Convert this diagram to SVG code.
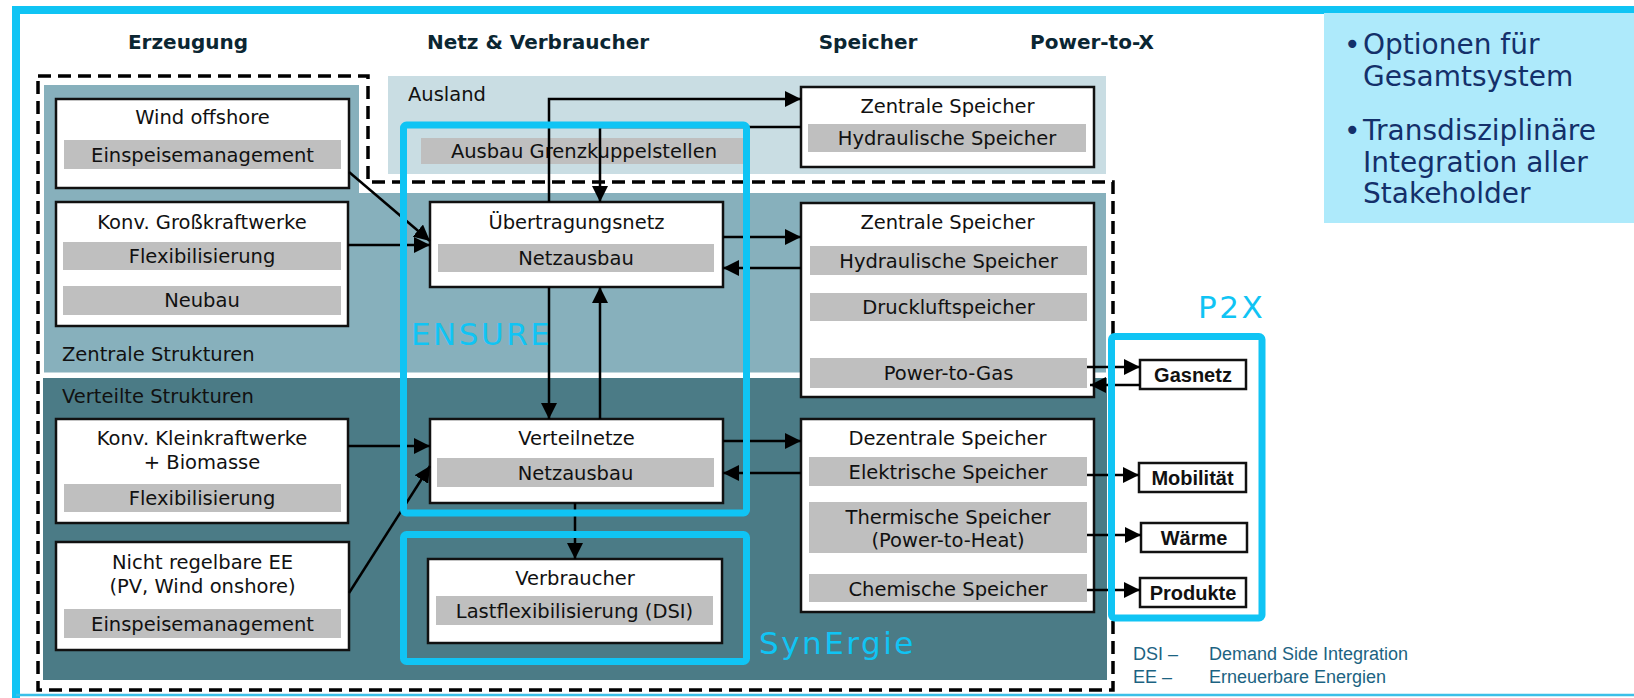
<svg xmlns="http://www.w3.org/2000/svg" width="1634" height="698" viewBox="0 0 1634 698">
  <style>
    .txt { font-family: "DejaVu Sans", Verdana, sans-serif; font-size: 19.5px; fill: #111; text-anchor: middle; }
    .lbl { font-family: "DejaVu Sans", Verdana, sans-serif; font-size: 19.5px; fill: #111; }
    .hdr { font-family: "DejaVu Sans", Verdana, sans-serif; font-size: 20px; font-weight: bold; fill: #0b2632; text-anchor: middle; }
    .box { fill: #fff; stroke: #111; stroke-width: 2.5; }
    .bar { fill: #bfbfbf; }
    .sbox { fill: #fff; stroke: #111; stroke-width: 2.5; }
    .stxt { font-family: "Liberation Sans", Arial, sans-serif; font-size: 20px; font-weight: bold; fill: #111; text-anchor: middle; }
    .frame { fill: none; stroke: #10c4f4; stroke-width: 7; }
    .ctxt { font-family: "DejaVu Sans", Verdana, sans-serif; font-size: 31px; fill: #10c4f4; letter-spacing: 2.5px; }
    .con { fill: none; stroke: #000; stroke-width: 2.5; marker-end: url(#ah); }
    .note { font-family: "DejaVu Sans", Verdana, sans-serif; font-size: 28px; fill: #14306a; }
    .leg { font-family: "Liberation Sans", Arial, sans-serif; font-size: 18px; fill: #1c6382; }
  </style>
  <defs>
    <marker id="ah" markerUnits="userSpaceOnUse" markerWidth="17" markerHeight="16" refX="16" refY="8" orient="auto">
      <path d="M0,0 L16,8 L0,16 Z" fill="#000"/>
    </marker>
  </defs>

  <rect width="1634" height="698" fill="#fff"/>

  <!-- outer frame -->
  <path d="M1640,10 H16 V700" fill="none" stroke="#10c4f4" stroke-width="8"/>
  <line x1="16" y1="695" x2="1634" y2="695" stroke="#3bc0e8" stroke-width="2.5"/>

  <!-- summary box -->
  <g id="summary">
    <rect x="1324" y="13" width="320" height="210" fill="#aeeafb"/>
    <text class="note" x="1344" y="54">•</text>
    <text class="note" x="1363" y="54">Optionen für</text>
    <text class="note" x="1363" y="86">Gesamtsystem</text>
    <text class="note" x="1344" y="140">•</text>
    <text class="note" x="1363" y="140">Transdisziplinäre</text>
    <text class="note" x="1363" y="172">Integration aller</text>
    <text class="note" x="1363" y="203">Stakeholder</text>
  </g>

  <!-- column headers -->
  <g id="headers">
    <text class="hdr" x="188" y="49">Erzeugung</text>
    <text class="hdr" x="538" y="49">Netz &amp; Verbraucher</text>
    <text class="hdr" x="868" y="49">Speicher</text>
    <text class="hdr" x="1092" y="49">Power-to-X</text>
  </g>

  <!-- background regions -->
  <g id="regions">
    <rect id="ausland" x="388" y="76" width="718" height="98" fill="#c9dde3"/>
    <polygon id="zentral" points="44,85 359,85 359,193 1106,193 1106,372.5 44,372.5" fill="#87b0bc"/>
    <rect id="verteilt" x="43" y="378" width="1064" height="302" fill="#4b7b86"/>
    <text class="lbl" x="408" y="101">Ausland</text>
    <text class="lbl" x="62" y="361">Zentrale Strukturen</text>
    <text class="lbl" x="62" y="403">Verteilte Strukturen</text>
  </g>

  <!-- dashed scope outline -->
  <path d="M38,76 H368 V182 H1113 V690 H38 Z" fill="none" stroke="#000" stroke-width="3.5" stroke-dasharray="13 7"/>

  <!-- generation -->
  <g id="wind-offshore">
    <rect class="box" x="56" y="99" width="293" height="89"/>
    <text class="txt" x="202.5" y="124">Wind offshore</text>
    <rect class="bar" x="64" y="140" width="277" height="29"/>
    <text class="txt" x="202.5" y="162">Einspeisemanagement</text>
  </g>
  <g id="grosskraftwerke">
    <rect class="box" x="56" y="202" width="292" height="124"/>
    <text class="txt" x="202" y="229">Konv. Großkraftwerke</text>
    <rect class="bar" x="63" y="242" width="278" height="28"/>
    <text class="txt" x="202" y="263">Flexibilisierung</text>
    <rect class="bar" x="63" y="286" width="278" height="29"/>
    <text class="txt" x="202" y="307">Neubau</text>
  </g>
  <g id="kleinkraftwerke">
    <rect class="box" x="56" y="419" width="292" height="104"/>
    <text class="txt" x="202" y="445">Konv. Kleinkraftwerke</text>
    <text class="txt" x="202" y="469">+ Biomasse</text>
    <rect class="bar" x="64" y="484" width="277" height="28"/>
    <text class="txt" x="202" y="505">Flexibilisierung</text>
  </g>
  <g id="nicht-regelbare-ee">
    <rect class="box" x="56" y="542" width="293" height="108"/>
    <text class="txt" x="202.5" y="569">Nicht regelbare EE</text>
    <text class="txt" x="202.5" y="593">(PV, Wind onshore)</text>
    <rect class="bar" x="64" y="609" width="277" height="29"/>
    <text class="txt" x="202.5" y="631">Einspeisemanagement</text>
  </g>

  <!-- grids and consumers -->
  <g id="grenzkuppelstellen">
    <rect class="bar" x="421" y="138" width="324" height="26"/>
    <text class="txt" x="584" y="158">Ausbau Grenzkuppelstellen</text>
  </g>
  <g id="uebertragungsnetz">
    <rect class="box" x="430" y="202" width="293" height="85"/>
    <text class="txt" x="576.5" y="229">Übertragungsnetz</text>
    <rect class="bar" x="438" y="244" width="276" height="28"/>
    <text class="txt" x="576" y="265">Netzausbau</text>
  </g>
  <g id="verteilnetze">
    <rect class="box" x="430" y="419" width="293" height="84"/>
    <text class="txt" x="576.5" y="445">Verteilnetze</text>
    <rect class="bar" x="437" y="458" width="277" height="29"/>
    <text class="txt" x="575.5" y="480">Netzausbau</text>
  </g>
  <g id="verbraucher">
    <rect class="box" x="428" y="559" width="294" height="84"/>
    <text class="txt" x="575" y="585">Verbraucher</text>
    <rect class="bar" x="436" y="596" width="277" height="29"/>
    <text class="txt" x="574.5" y="618">Lastflexibilisierung (DSI)</text>
  </g>

  <!-- storage -->
  <g id="speicher-ausland">
    <rect class="box" x="801" y="87" width="293" height="80"/>
    <text class="txt" x="947.5" y="113">Zentrale Speicher</text>
    <rect class="bar" x="808" y="124" width="278" height="28"/>
    <text class="txt" x="947" y="145">Hydraulische Speicher</text>
  </g>
  <g id="zentrale-speicher">
    <rect class="box" x="801" y="203" width="293" height="194"/>
    <text class="txt" x="947.5" y="229">Zentrale Speicher</text>
    <rect class="bar" x="810" y="246" width="277" height="29"/>
    <text class="txt" x="948.5" y="268">Hydraulische Speicher</text>
    <rect class="bar" x="810" y="293" width="277" height="28"/>
    <text class="txt" x="948.5" y="314">Druckluftspeicher</text>
    <rect class="bar" x="810" y="358" width="277" height="30"/>
    <text class="txt" x="948.5" y="380">Power-to-Gas</text>
  </g>
  <g id="dezentrale-speicher">
    <rect class="box" x="801" y="419" width="293" height="193"/>
    <text class="txt" x="947.5" y="445">Dezentrale Speicher</text>
    <rect class="bar" x="809" y="457" width="278" height="29"/>
    <text class="txt" x="948" y="479">Elektrische Speicher</text>
    <rect class="bar" x="809" y="502" width="278" height="51"/>
    <text class="txt" x="948" y="524">Thermische Speicher</text>
    <text class="txt" x="948" y="547">(Power-to-Heat)</text>
    <rect class="bar" x="809" y="574" width="278" height="28"/>
    <text class="txt" x="948" y="596">Chemische Speicher</text>
  </g>

  <!-- power-to-x targets -->
  <g id="gasnetz">
    <rect class="sbox" x="1140" y="360" width="106" height="29"/>
    <text class="stxt" x="1193" y="382">Gasnetz</text>
  </g>
  <g id="mobilitaet">
    <rect class="sbox" x="1139" y="463" width="107" height="29"/>
    <text class="stxt" x="1192.5" y="485">Mobilität</text>
  </g>
  <g id="waerme">
    <rect class="sbox" x="1141" y="523" width="106" height="29"/>
    <text class="stxt" x="1194" y="545">Wärme</text>
  </g>
  <g id="produkte">
    <rect class="sbox" x="1140" y="578" width="106" height="29"/>
    <text class="stxt" x="1193" y="600">Produkte</text>
  </g>

  <!-- connectors -->
  <g id="connectors">
    <path class="con" d="M349,172 L430,241"/>
    <path class="con" d="M348,245 H430"/>
    <path class="con" d="M549,202 V99 H801"/>
    <path class="con" d="M801,127 H600 V202"/>
    <path class="con" d="M723,237 H801"/>
    <path class="con" d="M801,268 H723"/>
    <path class="con" d="M549,287 V419"/>
    <path class="con" d="M600,419 V287"/>
    <path class="con" d="M348,446 H430"/>
    <path class="con" d="M349,593 L430,466"/>
    <path class="con" d="M575,503 V559"/>
    <path class="con" d="M723,441 H801"/>
    <path class="con" d="M801,473 H723"/>
    <path class="con" d="M1087,367 H1140"/>
    <path class="con" d="M1140,385 H1090"/>
    <path class="con" d="M1087,475 H1139"/>
    <path class="con" d="M1087,535 H1141"/>
    <path class="con" d="M1087,590 H1140"/>
  </g>

  <!-- project scopes -->
  <g id="ensure">
    <rect class="frame" x="403.5" y="125" width="343" height="388" rx="3"/>
    <text class="ctxt" x="411" y="345">ENSURE</text>
  </g>
  <g id="synergie">
    <rect class="frame" x="403.5" y="534.5" width="343" height="127" rx="3"/>
    <text class="ctxt" x="759" y="654">SynErgie</text>
  </g>
  <g id="p2x">
    <rect class="frame" x="1111.5" y="336.5" width="150.5" height="281.5" rx="3"/>
    <text class="ctxt" x="1198" y="318">P2X</text>
  </g>

  <!-- abbreviations -->
  <g id="legend">
    <text class="leg" x="1133" y="660">DSI –</text>
    <text class="leg" x="1209" y="660">Demand Side Integration</text>
    <text class="leg" x="1133" y="683">EE –</text>
    <text class="leg" x="1209" y="683">Erneuerbare Energien</text>
  </g>
</svg>
